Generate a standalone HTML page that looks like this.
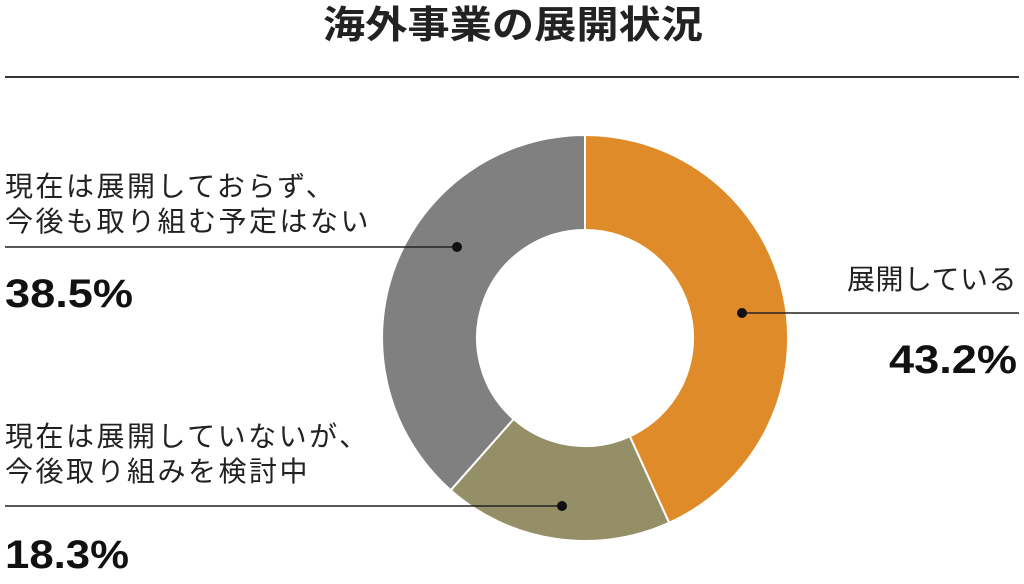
<!DOCTYPE html>
<html><head><meta charset="utf-8"><style>
body{margin:0;background:#fff;}
svg{display:block}
.l{font-family:"Liberation Sans","Noto Sans CJK JP",sans-serif;font-size:28px;letter-spacing:2.5px;fill:#222}
.p{font-family:"Liberation Sans","Noto Sans CJK JP",sans-serif;font-size:40px;font-weight:bold;fill:#111}
</style></head><body>
<svg width="1024" height="584" viewBox="0 0 1024 584">
<text x="513" y="38" text-anchor="middle" textLength="380" lengthAdjust="spacingAndGlyphs" style="font-family:'Liberation Sans','Noto Sans CJK JP',sans-serif;font-size:38px;font-weight:bold;fill:#222">海外事業の展開状況</text>
<line x1="5" y1="77" x2="1019" y2="77" stroke="#333" stroke-width="2"/>
<g stroke="#fff" stroke-width="2">
<path d="M585,135 A203,203 0 0 1 669.1,522.8 L629.8,436.3 A108,108 0 0 0 585,230 Z" fill="#e08b2a"/>
<path d="M669.1,522.8 A203,203 0 0 1 450.7,490.2 L513.6,419 A108,108 0 0 0 629.8,436.3 Z" fill="#958f67"/>
<path d="M450.7,490.2 A203,203 0 0 1 585,135 L585,230 A108,108 0 0 0 513.6,419 Z" fill="#808080"/>
</g>
<g stroke="#222" stroke-width="1.5">
<line x1="5" y1="247" x2="457" y2="247"/>
<line x1="5" y1="506" x2="562" y2="506"/>
<line x1="742" y1="313" x2="1019" y2="313"/>
</g>
<g fill="#111"><circle cx="457" cy="247" r="5"/><circle cx="562" cy="506" r="5"/><circle cx="742" cy="313" r="5"/></g>
<text class="l" x="5" y="196">現在は展開しておらず、</text>
<text class="l" x="5" y="231">今後も取り組む予定はない</text>
<text class="p" x="5" y="307" textLength="128" lengthAdjust="spacingAndGlyphs">38.5%</text>
<text class="l" x="1019" y="289" text-anchor="end" textLength="172">展開している</text>
<text class="p" x="1017" y="373" text-anchor="end" textLength="128" lengthAdjust="spacingAndGlyphs">43.2%</text>
<text class="l" x="5" y="446">現在は展開していないが、</text>
<text class="l" x="5" y="481">今後取り組みを検討中</text>
<text class="p" x="5" y="568" textLength="124" lengthAdjust="spacingAndGlyphs">18.3%</text>
</svg>
</body></html>
